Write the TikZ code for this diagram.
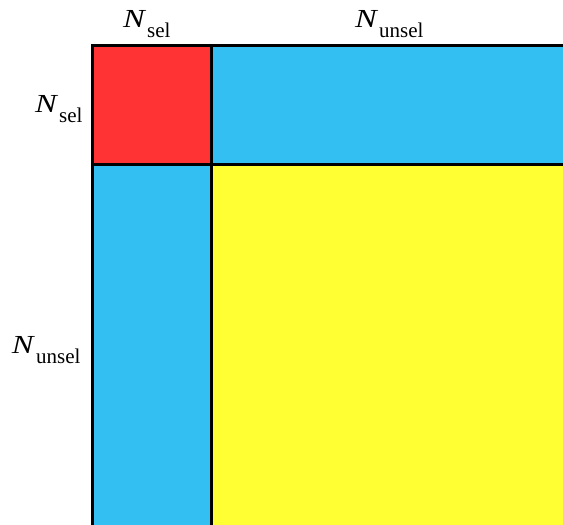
\documentclass[tikz,border=0pt]{standalone}
\usepackage{fontspec}
\setmainfont{Liberation Serif}
\definecolor{cellred}{RGB}{255,51,51}
\definecolor{cellblue}{RGB}{51,191,242}
\definecolor{cellyellow}{RGB}{255,255,51}
\newcommand{\lbl}[1]{\scalebox{1.25}[1]{\fontsize{26}{30}\selectfont\itshape N}\kern2.5pt\raisebox{-10pt}{\fontsize{21}{24}\selectfont #1}}
\begin{document}
\begin{tikzpicture}[x=1pt,y=-1pt,
  cell/.style={draw=black,line width=3pt},
  lab/.style={anchor=base west,inner sep=0pt,outer sep=0pt}]
\useasboundingbox (0,0) rectangle (563,525);
\clip (0,0) rectangle (563,525);
\fill[white] (0,0) rectangle (563,525);
\filldraw[cell,fill=cellred] (92,45) rectangle (211,164);
\filldraw[cell,fill=cellblue] (211,45) rectangle (610,164);
\filldraw[cell,fill=cellblue] (92,164) rectangle (211,560);
\filldraw[cell,fill=cellyellow] (211,164) rectangle (610,560);
\node[lab] (tsel) at (123,27) {\lbl{sel}};
\node[lab] (tunsel) at (355,27) {\lbl{unsel}};
\node[lab] (lsel) at (35,112) {\lbl{sel}};
\node[lab] (lunsel) at (12,353) {\lbl{unsel}};
\end{tikzpicture}
\end{document}
